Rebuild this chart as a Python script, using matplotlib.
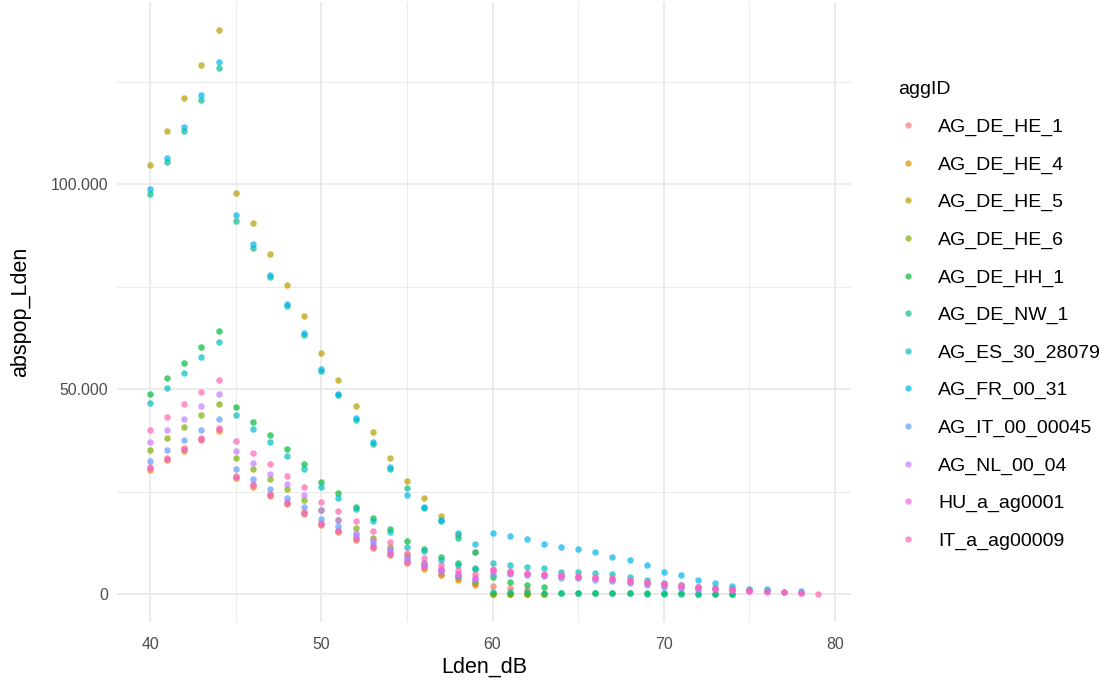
import numpy as np
import matplotlib.pyplot as plt
from matplotlib.lines import Line2D
from matplotlib.ticker import FuncFormatter

plt.rcParams['font.family'] = ['Liberation Sans', 'DejaVu Sans']

# Lden bands (dB) and population per aggID (in thousands)
groups = ["AG_DE_HE_1", "AG_DE_HE_4", "AG_DE_HE_5", "AG_DE_HE_6", "AG_DE_HH_1",
          "AG_DE_NW_1", "AG_ES_30_28079", "AG_FR_00_31", "AG_IT_00_00045",
          "AG_NL_00_04", "HU_a_ag0001", "IT_a_ag00009"]
colors = ["#F8766D", "#DE8C00", "#B79F00", "#7CAE00", "#00BA38", "#00C08B",
          "#00BFC4", "#00B4F0", "#619CFF", "#C77CFF", "#F564E3", "#FF64B0"]

de_he_1 = [31, 33.2, 35.6, 38.1, 40.4, 28.7, 26.8, 24.3, 22.4, 20, 17.3, 15.6, 13.6,
           11.6, 10, 8, 6.5, 5, 3.8, 2.8, 2, 1.5, 1.0]
de_he_4 = [30.3, 32.6, 35, 37.5, 39.8, 28.2, 26.2, 23.9, 22, 19.6, 16.9, 15.2, 13.2,
           11.2, 9.6, 7.6, 6, 4.6, 3.4, 2.3, 0, 0, 0]
de_he_5 = [104.6, 113, 121, 129, 137.5, 97.8, 90.5, 83, 75.4, 67.8, 58.8, 52.2, 45.9,
           39.5, 33.2, 27.6, 23.4, 19, 14.5, 10.2, 0, 0, 0, 0]
de_he_6 = [35.1, 38, 40.7, 43.7, 46.3, 33.2, 30.5, 28, 25.6, 22.9, 20.5, 18, 16.1,
           13.6, 11.5, 9.5, 7.5, 5.8, 4.3, 3.0, 0, 0, 0, 0]
de_hh_1 = [48.8, 52.7, 56.3, 60.2, 64.1, 45.6, 42, 38.8, 35.4, 31.7, 27.3, 24.6, 21.2,
           18.5, 15.9, 12.9, 11, 9, 7.6, 6.0, 4.1, 2.9, 2.2, 1.7, 0.3, 0.3, 0.3, 0.3,
           0.2, 0.2, 0.2, 0.2, 0.1, 0.1, 0.1]
de_nw_1 = [97.5, 105.3, 113, 120.5, 128.4, 91, 84.5, 77.3, 70.2, 63.2, 54.5, 48.5, 42.5,
           36.6, 30.6, 25.8, 21, 17.8, 13.7, 10.2, 0.5, 0.4, 0.4, 0.3, 0.2, 0.2, 0.2,
           0.2, 0.2, 0.1, 0.1, 0.1, 0.1, 0.1, 0.1]
es_30 = [46.6, 50.3, 53.9, 57.8, 61.5, 43.7, 40.2, 37.1, 33.7, 30.5, 26.1, 23.4, 20.7,
         17.8, 15.1, 11.5, 10.4, 8.4, 7.2, 6.3, 7.6, 7.1, 6.6, 6.3, 5.4, 5.4, 5.1, 4.8,
         4.1, 3.4, 2.6, 2.2, 1.7, 1.5, 1.3, 1.0, 0.8]
fr_00_31 = [98.8, 106.3, 114, 121.7, 129.7, 92.4, 85.4, 77.8, 70.7, 63.7, 54.9, 48.8,
            42.9, 37, 31, 24.1, 21.2, 18, 14.9, 12.2, 14.9, 14.1, 13.4, 12.2, 11.5, 11,
            10.2, 9, 8.3, 7.1, 5.4, 4.6, 3.4, 2.7, 2, 1.2, 1.2, 0.5, 0.8]
it_00045 = [32.4, 35.1, 37.6, 40, 42.7, 30.5, 28, 25.6, 23.4, 21.2, 18.3, 16.6, 14.4,
            12.4, 10.5, 8.5, 7, 5.5, 4.4, 3.5, 5.0, 4.8, 4.6, 4.3, 4.0, 3.8, 3.5, 3.1,
            2.7, 2.3, 1.8, 1.4, 1.0]
nl_00_04 = [37, 40, 42.7, 45.9, 48.8, 34.9, 32, 29.3, 26.8, 24.1, 20.5, 18, 14.8, 13.2,
            11, 9, 7.5, 6, 5, 4, 5.8, 5.4, 5, 4.6, 4.3, 4.1, 3.8, 3.5, 3, 2.6, 2.1, 1.8,
            1.4, 1.2, 0.9, 0.7]
hu_0001 = [30.7, 32.9, 35.4, 37.8, 40.2, 28.5, 26.6, 24.1, 22.2, 19.8, 17.1, 15.4, 13.4,
           11.5, 9.8, 7.8, 6.8, 5.9, 4.8, 3.9, 5.5, 5.2, 5, 4.7, 4.4, 4.2, 4, 3.7, 3.2,
           2.8, 2.4, 2.0, 1.6, 1.3, 1.0, 0.8, 0.6, 0.4, 0.2]
it_00009 = [40, 43.2, 46.3, 49.3, 52.2, 37.3, 34.4, 31.7, 28.8, 26.1, 22.4, 20.2, 17.8,
            15.4, 12.7, 10, 8.8, 7.1, 5.9, 4.8, 6, 5.5, 5.2, 4.9, 4.6, 4.4, 4.1, 3.9,
            3.4, 3.0, 2.5, 2.2, 1.8, 1.5, 1.2, 0.9, 0.8, 0.5, 0.3, 0.1]

series = [de_he_1, de_he_4, de_he_5, de_he_6, de_hh_1, de_nw_1, es_30, fr_00_31,
          it_00045, nl_00_04, hu_0001, it_00009]

fig = plt.figure(figsize=(11.12, 6.87), dpi=100)
ax = fig.add_axes([0.1049, 0.0943, 0.6607, 0.9027])

for name, col, vals in zip(groups, colors, series):
    x = 40 + np.arange(len(vals))
    ax.scatter(x, np.array(vals) * 1000, s=22, color=col, alpha=0.7,
               linewidths=0, label=name, zorder=3)

ax.set_xlim(38.05, 80.95)
ax.set_ylim(-6875, 144375)
ax.set_xticks([40, 50, 60, 70, 80])
ax.set_xticks([45, 55, 65, 75], minor=True)
ax.set_yticks([0, 50000, 100000])
ax.set_yticks([25000, 75000, 125000], minor=True)
ax.yaxis.set_major_formatter(FuncFormatter(lambda v, p: f"{int(v):,}".replace(",", ".")))
ax.grid(which='major', color='#EBEBEB', linewidth=1.4, zorder=0)
ax.grid(which='minor', color='#EBEBEB', linewidth=0.7, zorder=0)
ax.set_axisbelow(True)
for s in ax.spines.values():
    s.set_visible(False)
ax.tick_params(which='both', length=0, labelsize=11.4, labelcolor='#4D4D4D')
ax.tick_params(axis='x', pad=11)
ax.tick_params(axis='y', pad=6)
ax.set_xlabel("Lden_dB", fontsize=15.5, labelpad=3)
ax.set_ylabel("abspop_Lden", fontsize=15.5, labelpad=14)

handles = [Line2D([], [], marker='o', linestyle='', markersize=4.5, color=c, alpha=0.7,
                  markeredgewidth=0) for c in colors]
leg = fig.legend(handles, groups, title="aggID", loc='upper left',
                 bbox_to_anchor=(0.792, 0.907), frameon=False, fontsize=14,
                 title_fontsize=14, labelspacing=1.02, handlelength=1.0,
                 handletextpad=1.05, alignment='left')

fig.savefig("out.png", dpi=100)
